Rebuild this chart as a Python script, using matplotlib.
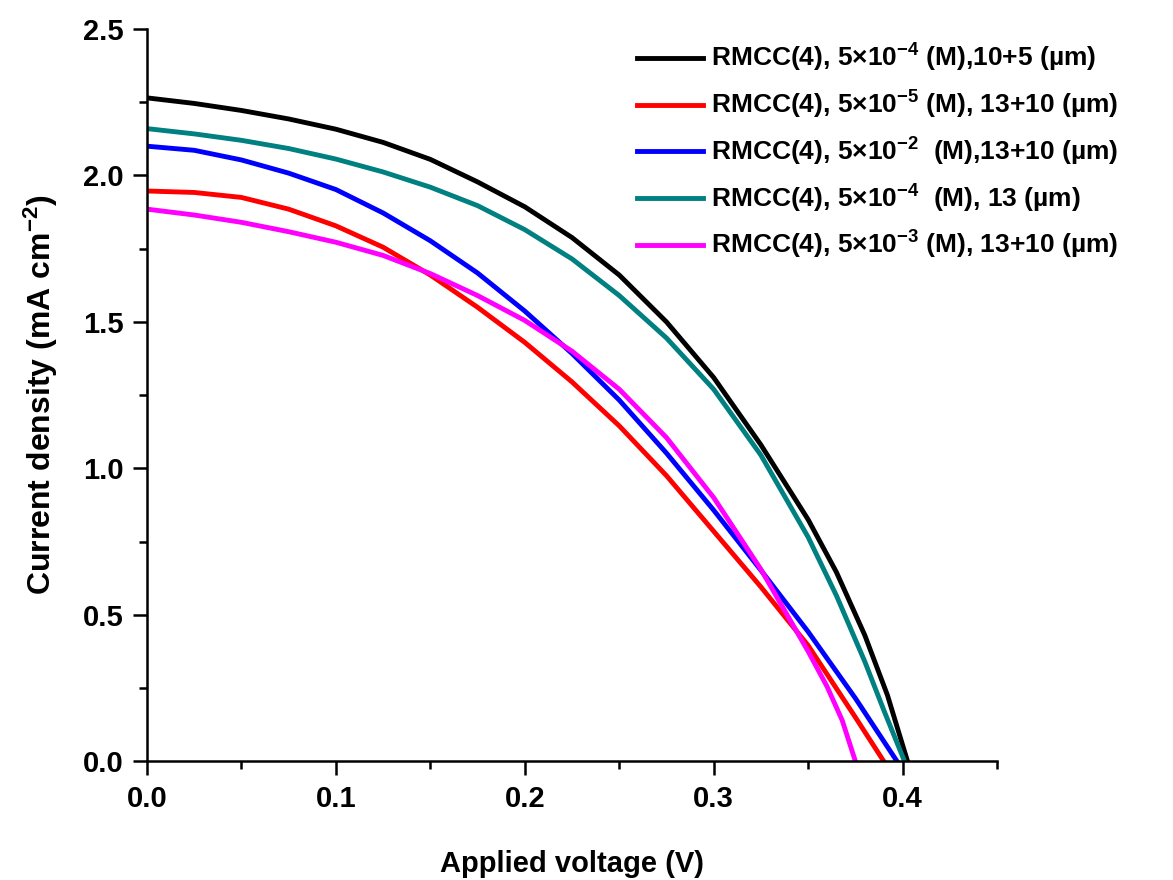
import matplotlib

matplotlib.use("Agg")
import matplotlib.pyplot as plt
from matplotlib.ticker import MultipleLocator

plt.rcParams["font.family"] = ["Liberation Sans", "DejaVu Sans"]
plt.rcParams["font.weight"] = "bold"
plt.rcParams["mathtext.fontset"] = "custom"
plt.rcParams["mathtext.rm"] = "Liberation Sans:bold"
plt.rcParams["mathtext.bf"] = "Liberation Sans:bold"
plt.rcParams["mathtext.default"] = "bf"

# J-V curves (V in volts, J in mA cm^-2)
v_black = [0, 0.025, 0.05, 0.075, 0.1, 0.125, 0.15, 0.175, 0.2, 0.225, 0.25, 0.275,
           0.3, 0.325, 0.35, 0.365, 0.38, 0.392, 0.4026]
j_black = [2.265, 2.246, 2.222, 2.193, 2.158, 2.113, 2.055, 1.978, 1.893, 1.788, 1.66,
           1.50, 1.31, 1.08, 0.825, 0.645, 0.43, 0.225, 0.0]

v_red = [0, 0.025, 0.05, 0.075, 0.1, 0.125, 0.15, 0.175, 0.2, 0.225, 0.25, 0.275,
         0.3, 0.325, 0.35, 0.375, 0.390]
j_red = [1.947, 1.942, 1.925, 1.885, 1.828, 1.755, 1.66, 1.55, 1.43, 1.295, 1.145, 0.975,
         0.785, 0.595, 0.395, 0.15, 0.0]

v_blue = [0, 0.025, 0.05, 0.075, 0.1, 0.125, 0.15, 0.175, 0.2, 0.225, 0.25, 0.275,
          0.3, 0.325, 0.35, 0.375, 0.397]
j_blue = [2.10, 2.086, 2.053, 2.008, 1.952, 1.872, 1.777, 1.667, 1.537, 1.392, 1.233, 1.052,
          0.857, 0.652, 0.442, 0.215, 0.0]

v_teal = [0, 0.025, 0.05, 0.075, 0.1, 0.125, 0.15, 0.175, 0.2, 0.225, 0.25, 0.275,
          0.3, 0.325, 0.35, 0.365, 0.38, 0.39, 0.401]
j_teal = [2.16, 2.142, 2.12, 2.092, 2.056, 2.012, 1.96, 1.897, 1.815, 1.715, 1.59, 1.445,
          1.27, 1.045, 0.765, 0.565, 0.34, 0.175, 0.0]

v_mag = [0, 0.025, 0.05, 0.075, 0.1, 0.125, 0.15, 0.175, 0.2, 0.225, 0.25, 0.275,
         0.3, 0.325, 0.35, 0.36, 0.368, 0.375]
j_mag = [1.885, 1.865, 1.84, 1.808, 1.772, 1.727, 1.665, 1.59, 1.505, 1.40, 1.27, 1.105,
         0.90, 0.655, 0.375, 0.255, 0.14, 0.0]

labels = [
    "RMCC(4), 5×10$^{-4}$ (M),10+5 (µm)",
    "RMCC(4), 5×10$^{-5}$ (M), 13+10 (µm)",
    "RMCC(4), 5×10$^{-2}$  (M),13+10 (µm)",
    "RMCC(4), 5×10$^{-4}$  (M), 13 (µm)",
    "RMCC(4), 5×10$^{-3}$ (M), 13+10 (µm)",
]
colours = ["#000000", "#FF0000", "#0000FF", "#008080", "#FF00FF"]
series = [(v_black, j_black), (v_red, j_red), (v_blue, j_blue), (v_teal, j_teal), (v_mag, j_mag)]

fig = plt.figure(figsize=(11.73, 8.8), dpi=100)
ax = fig.add_axes([0.1253, 0.135, 0.7247, 0.832])

for (v, j), c, lab in zip(series, colours, labels):
    ax.plot(v, j, color=c, lw=3.5, label=lab, solid_joinstyle="round")

ax.set_xlim(0, 0.45)
ax.set_ylim(0, 2.5)
ax.xaxis.set_minor_locator(MultipleLocator(0.05))
ax.yaxis.set_major_locator(MultipleLocator(0.5))
ax.yaxis.set_minor_locator(MultipleLocator(0.25))
ax.set_xticks([0.0, 0.1, 0.2, 0.3, 0.4])
ax.set_xticklabels(["0.0", "0.1", "0.2", "0.3", "0.4"])
ax.tick_params(which="major", direction="out", length=10, width=1.8, labelsize=21, pad=7)
ax.tick_params(which="minor", direction="out", length=6, width=1.8)
for side in ("top", "right"):
    ax.spines[side].set_visible(False)
for side in ("left", "bottom"):
    ax.spines[side].set_linewidth(1.8)

ax.set_xlabel("Applied voltage (V)", fontsize=21, fontweight="bold", labelpad=27)
ax.set_ylabel("Current density (mA cm$^{-2}$)", fontsize=23, fontweight="bold", labelpad=16)

ax.legend(loc="upper left", bbox_to_anchor=(0.543, 0.952), bbox_transform=fig.transFigure,
          frameon=False, fontsize=19, handlelength=2.5, handletextpad=0.3,
          labelspacing=0.55, borderaxespad=0, borderpad=0)

fig.savefig("out.png", dpi=100)
